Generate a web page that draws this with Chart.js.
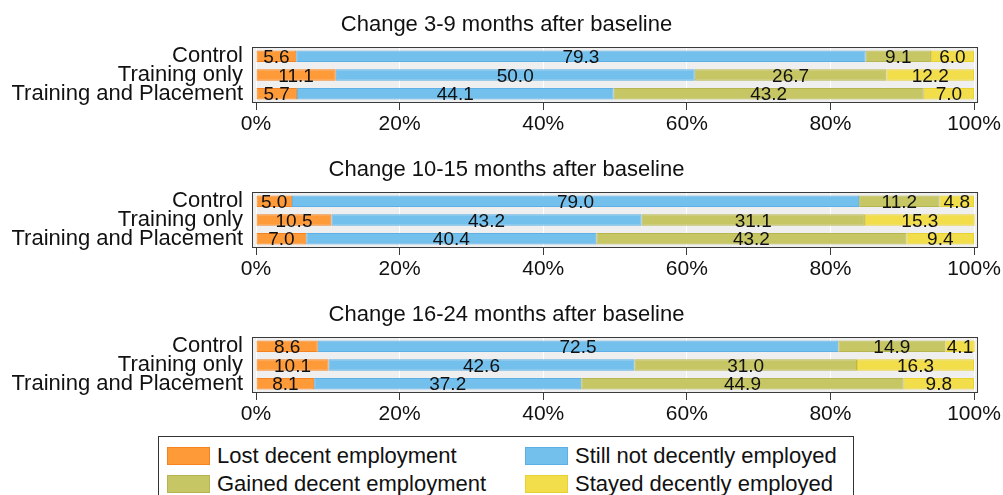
<!DOCTYPE html>
<html>
<head>
<meta charset="utf-8">
<script src="https://cdn.jsdelivr.net/npm/chart.js@4.4.1/dist/chart.umd.min.js"></script>
<style>
  body { margin: 0; background: #fff; width: 1003px; height: 495px; overflow: hidden; position: relative; font-family: "Liberation Sans", Arial, sans-serif; }
  .panel { position: absolute; left: 0; width: 1003px; height: 145px; }
  #legend { position: absolute; left: 158px; top: 436px; width: 696px; height: 80px; border: 1px solid #333; box-sizing: border-box; }
  .item { position: absolute; height: 20px; font-size: 22px; line-height: 20px; color: #111; white-space: nowrap; }
  .swatch { position: absolute; left: 0; top: 0; width: 41px; height: 16px; border: 1px solid; }
  .item span { position: absolute; left: 50px; top: -1px; }
</style>
</head>
<body>
<div class="panel" style="top:0px"><canvas id="c0" width="1003" height="145"></canvas></div>
<div class="panel" style="top:145px"><canvas id="c1" width="1003" height="145"></canvas></div>
<div class="panel" style="top:290px"><canvas id="c2" width="1003" height="145"></canvas></div>
<div id="legend"></div>
<script>
// groups (y categories)
const groups = ['Control', 'Training only', 'Training and Placement'];
const seriesNames = ['Lost decent employment', 'Still not decently employed', 'Gained decent employment', 'Stayed decently employed'];
const fills = ['#ff9a38', '#74c0ec', '#c6c664', '#f2de4a'];
const edges = ['#f5821f', '#5cb0e6', '#b6b650', '#e8d232'];
const xTicks = [0, 20, 40, 60, 80, 100];

const titles = ['Change 3-9 months after baseline', 'Change 10-15 months after baseline', 'Change 16-24 months after baseline'];

// values per panel, one array per series, in group order
const lost3_9     = [5.6, 11.1, 5.7];
const still3_9    = [79.3, 50.0, 44.1];
const gained3_9   = [9.1, 26.7, 43.2];
const stayed3_9   = [6.0, 12.2, 7.0];

const lost10_15   = [5.0, 10.5, 7.0];
const still10_15  = [79.0, 43.2, 40.4];
const gained10_15 = [11.2, 31.1, 43.2];
const stayed10_15 = [4.8, 15.3, 9.4];

const lost16_24   = [8.6, 10.1, 8.1];
const still16_24  = [72.5, 42.6, 37.2];
const gained16_24 = [14.9, 31.0, 44.9];
const stayed16_24 = [4.1, 16.3, 9.8];

const panels = [
  [lost3_9, still3_9, gained3_9, stayed3_9],
  [lost10_15, still10_15, gained10_15, stayed10_15],
  [lost16_24, still16_24, gained16_24, stayed16_24]
];

const FONT = '"Liberation Sans", Arial, sans-serif';

// gray plot background + frame, title nudged to page centre
const framePlugin = {
  id: 'frame',
  afterLayout(chart) {
    const t = chart.titleBlock;
    if (t) { t.left += 17; t.right += 17; }
  },
  beforeDraw(chart) {
    const a = chart.chartArea, ctx = chart.ctx;
    ctx.save();
    ctx.fillStyle = '#efefef';
    ctx.fillRect(a.left, a.top, a.right - a.left, a.bottom - a.top);
    ctx.restore();
  },
  afterDraw(chart) {
    const a = chart.chartArea, ctx = chart.ctx;
    ctx.save();
    ctx.strokeStyle = '#3a3a3a';
    ctx.lineWidth = 1;
    ctx.strokeRect(a.left + 0.5, a.top + 0.5, a.right - a.left - 1, a.bottom - a.top - 1);
    ctx.restore();
  }
};

// value labels centred in each segment
const labelPlugin = {
  id: 'segLabels',
  afterDatasetsDraw(chart) {
    const ctx = chart.ctx;
    ctx.save();
    ctx.font = '19px ' + FONT;
    ctx.fillStyle = '#111';
    ctx.textAlign = 'center';
    ctx.textBaseline = 'middle';
    chart.data.datasets.forEach((ds, i) => {
      chart.getDatasetMeta(i).data.forEach((el, j) => {
        const x = (el.x + el.base) / 2;
        ctx.fillText(ds.data[j].toFixed(1), x, el.y + 1.5);
      });
    });
    ctx.restore();
  }
};

panels.forEach((series, p) => {
  new Chart(document.getElementById('c' + p), {
    type: 'bar',
    data: {
      labels: groups,
      datasets: series.map((vals, i) => ({
        label: seriesNames[i],
        data: vals,
        backgroundColor: fills[i],
        borderColor: edges[i],
        borderWidth: 1,
        borderSkipped: false,
        barPercentage: 0.62,
        categoryPercentage: 1.0
      }))
    },
    options: {
      indexAxis: 'y',
      responsive: false,
      animation: false,
      layout: { padding: { left: 0, right: 24, top: 0, bottom: 0 } },
      plugins: {
        legend: { display: false },
        tooltip: { enabled: false },
        title: {
          display: true,
          text: titles[p],
          color: '#111',
          font: { family: FONT, size: 22, weight: 'normal', lineHeight: 1.2 },
          padding: { top: 12, bottom: 8.6 }
        }
      },
      scales: {
        x: {
          stacked: true,
          min: -0.56,
          max: 100.56,
          afterBuildTicks(axis) { axis.ticks = xTicks.map(v => ({ value: v })); },
          afterFit(axis) { axis.height = 42; },
          border: { display: false },
          grid: { color: '#ffffff', lineWidth: 1, tickColor: '#3a3a3a', tickLength: 7 },
          ticks: {
            color: '#111',
            padding: 2,
            maxRotation: 0,
            autoSkip: false,
            font: { family: FONT, size: 21 },
            callback: v => v + '%'
          }
        },
        y: {
          stacked: true,
          afterFit(axis) { axis.width = 252; },
          border: { display: false },
          grid: { display: false, drawTicks: false },
          ticks: {
            color: '#111',
            padding: 9,
            autoSkip: false,
            font: { family: FONT, size: 22, lineHeight: 0.8 }
          }
        }
      }
    },
    plugins: [framePlugin, labelPlugin]
  });
});

// legend box
const legend = document.getElementById('legend');
const legendPos = [[8, 10], [366, 10], [8, 38], [366, 38]];
seriesNames.forEach((name, k) => {
  const it = document.createElement('div');
  it.className = 'item';
  it.style.left = legendPos[k][0] + 'px';
  it.style.top = legendPos[k][1] + 'px';
  const sw = document.createElement('div');
  sw.className = 'swatch';
  sw.style.background = fills[k];
  sw.style.borderColor = edges[k];
  const tx = document.createElement('span');
  tx.textContent = name;
  it.appendChild(sw);
  it.appendChild(tx);
  legend.appendChild(it);
});
</script>
</body>
</html>
